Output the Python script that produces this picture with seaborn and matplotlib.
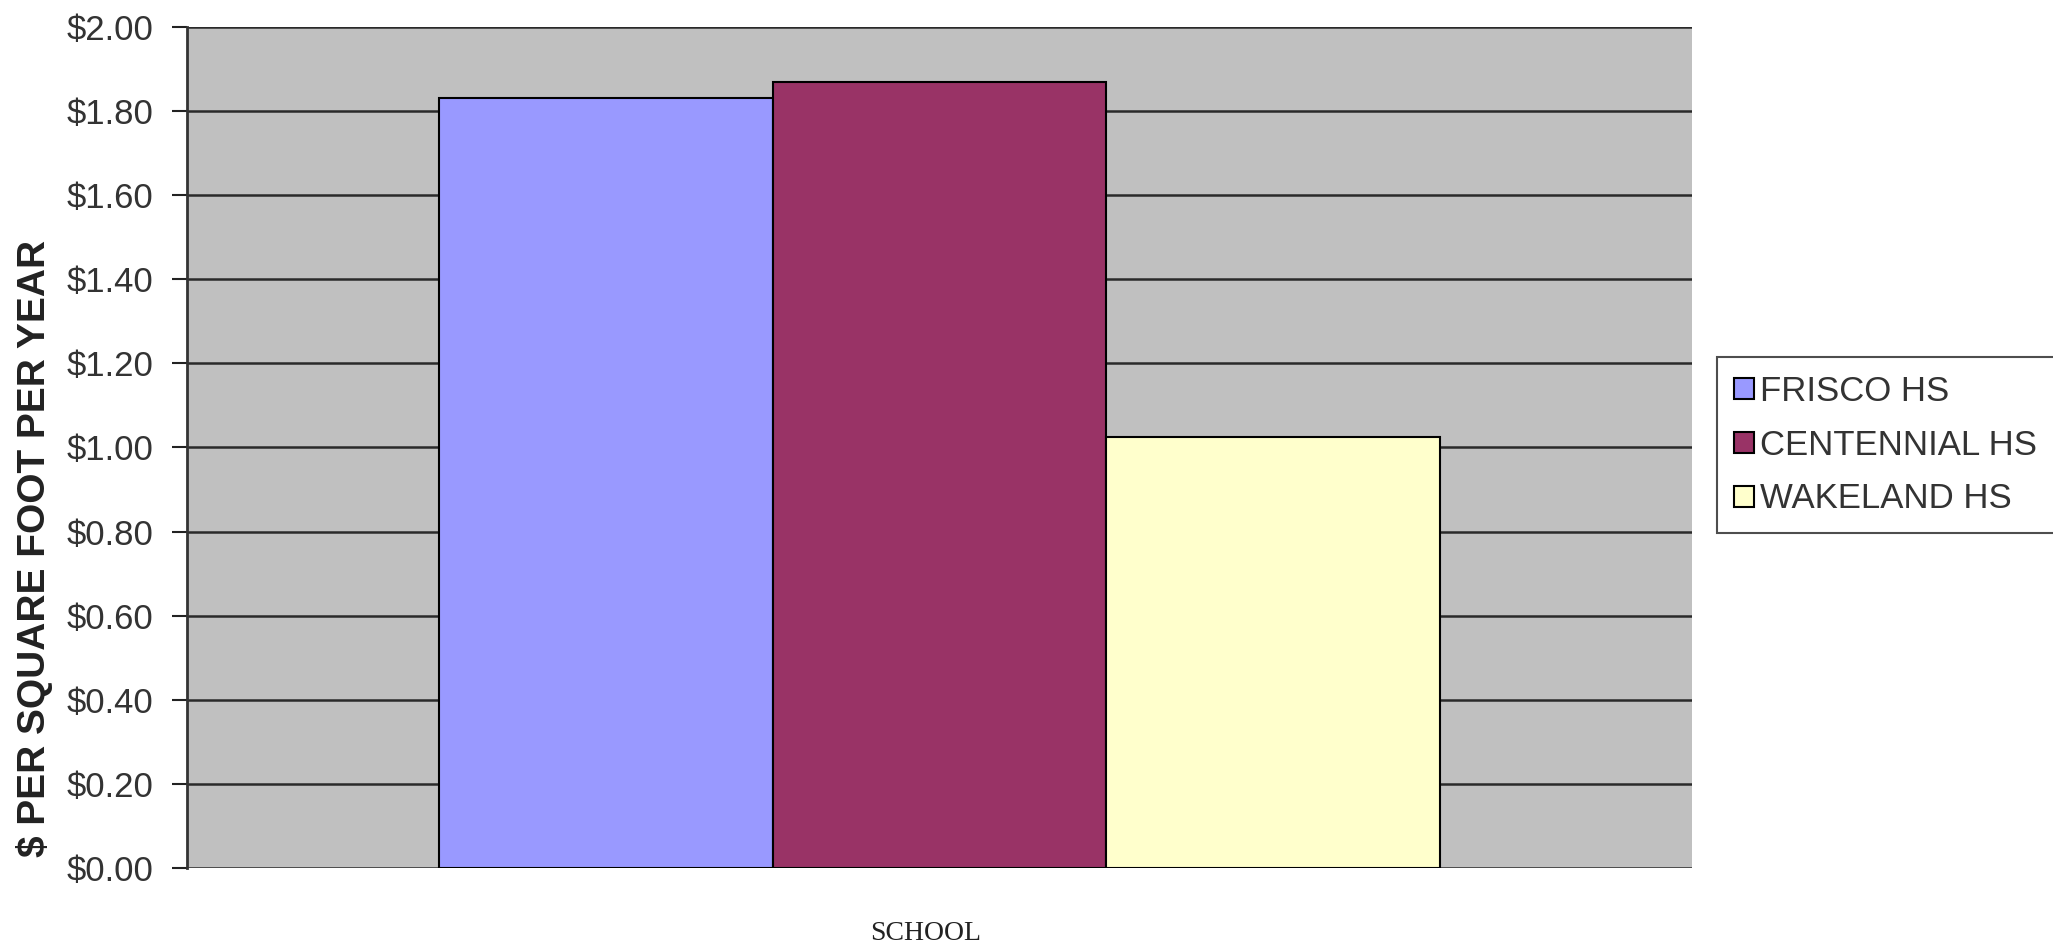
import matplotlib
matplotlib.use("Agg")
import matplotlib.pyplot as plt
import seaborn as sns
import pandas as pd
from matplotlib.ticker import FuncFormatter

schools = ["FRISCO HS", "CENTENNIAL HS", "WAKELAND HS"]
cost = [1.83, 1.87, 1.025]
colors = ["#9999FF", "#993366", "#FFFFCC"]
yticks = [0.0, 0.2, 0.4, 0.6, 0.8, 1.0, 1.2, 1.4, 1.6, 1.8, 2.0]

df = pd.DataFrame({"group": [""] * len(schools), "school": schools, "cost": cost})

sns.set_theme(style="white")
plt.rcParams["font.family"] = ["Liberation Sans", "DejaVu Sans"]

fig = plt.figure(figsize=(20.53, 9.46), dpi=100)
ax = fig.add_axes([0.0911, 0.0825, 0.7331, 0.889])

sns.barplot(data=df, x="group", y="cost", hue="school", hue_order=schools,
            palette=colors, width=0.665, edgecolor="black", linewidth=1.5,
            saturation=1, ax=ax, legend=True, zorder=3)

ax.set_facecolor("#C0C0C0")
ax.set_xlim(-0.5, 0.5)
ax.set_ylim(0, 2.0)
ax.set_yticks(yticks)
ax.yaxis.set_major_formatter(FuncFormatter(lambda v, p: f"${v:.2f}"))
ax.tick_params(axis="y", direction="out", length=11, width=1.5, color="#222222",
               labelsize=25, labelcolor="#333333", pad=13, left=True)
ax.tick_params(axis="x", bottom=False, labelbottom=False)
ax.grid(axis="y", color="#2a2a2a", linewidth=1.8, zorder=1)
ax.set_axisbelow(True)
for s in ["top", "right", "bottom"]:
    ax.spines[s].set_visible(False)
ax.spines["left"].set_color("#333333")
ax.spines["left"].set_linewidth(2)

ax.set_xlabel("")
ax.set_ylabel("")
fig.text(0.017, 0.42, "$ PER SQUARE FOOT PER YEAR", rotation=90, ha="center",
         va="center", fontsize=28, fontweight="bold", color="#222222")
fig.text(0.451, 0.013, "SCHOOL", ha="center", va="center", fontsize=20,
         family=["Liberation Serif", "DejaVu Serif"], color="#222222")

leg = ax.legend(loc="upper left", bbox_to_anchor=(1.0166, 0.607), frameon=True,
                fontsize=25, handlelength=0.55, handleheight=0.55, handletextpad=0.2,
                labelspacing=0.6, borderpad=0.5, borderaxespad=0, fancybox=False,
                labelcolor="#333333")
leg.get_frame().set_edgecolor("#222222")
leg.get_frame().set_linewidth(1.5)

fig.savefig("out.png", dpi=100)
